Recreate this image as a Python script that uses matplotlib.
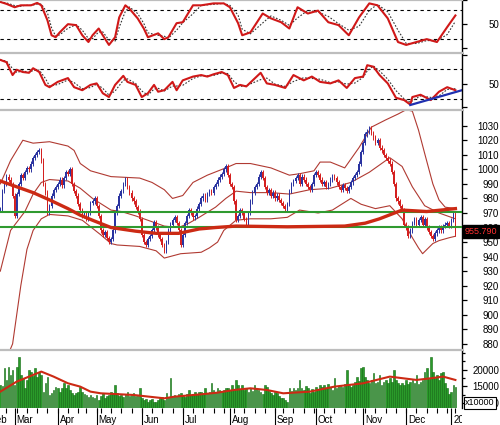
import numpy as np
import pandas as pd
import matplotlib
matplotlib.use('Agg')
import matplotlib.pyplot as plt
from matplotlib import transforms

plt.rcParams['font.family'] = ['Liberation Sans', 'DejaVu Sans']
label_size = 7

# trading days on the chart (exchange holidays removed)
holidays = pd.to_datetime(['2019-04-15', '2019-04-29', '2019-04-30', '2019-05-01',
                           '2019-09-02', '2020-01-01'])
dates = pd.bdate_range('2019-02-20', '2020-01-06')
dates = dates[~dates.isin(holidays)]

closes = [972, 985, 990, 995, 993, 990, 982, 968, 983, 990,
          996, 994, 998, 1001, 1000, 1004, 1008, 1010, 1012, 1013,
          1006, 990, 984, 970, 975, 982, 986, 988, 990, 993,
          989, 994, 998, 997, 1000, 990, 985, 982, 976, 972,
          968, 970, 966, 970, 977, 978, 980, 975, 968, 958,
          955, 957, 953, 950, 952, 958, 970, 975, 982, 985,
          990, 993, 988, 984, 980, 978, 974, 971, 966, 955,
          950, 948, 952, 954, 958, 964, 960, 955, 952, 948,
          944, 950, 958, 962, 965, 967, 963, 958, 948, 955,
          963, 968, 972, 970, 967, 968, 973, 976, 980, 982,
          979, 983, 985, 984, 988, 990, 993, 995, 997, 1000,
          1002, 996, 990, 988, 978, 965, 968, 972, 970, 966,
          962, 970, 978, 984, 988, 990, 995, 998, 994, 988,
          984, 986, 982, 984, 980, 982, 979, 977, 975, 973,
          976, 985, 990, 992, 994, 996, 990, 995, 993, 990,
          988, 986, 990, 996, 998, 996, 993, 990, 991, 988,
          990, 993, 995, 994, 991, 988, 986, 989, 987, 985,
          988, 991, 994, 996, 998, 1004, 1012, 1018, 1024, 1026,
          1028, 1025, 1022, 1018, 1020, 1015, 1013, 1010, 1008, 1006,
          1004, 998, 990, 980, 978, 975, 972, 962, 960, 954,
          958, 963, 966, 962, 965, 967, 962, 966, 960, 957,
          954, 952, 956, 958, 960, 958, 961, 962, 963, 961,
          965, 969, 955.79]

volumes = [15400, 15000, 20400, 17000, 20900, 18500, 19900, 15400, 20900, 23900,
           18400, 17400, 14400, 16900, 19900, 19400, 18000, 20400, 17900, 19400,
           18400, 13400, 16000, 17900, 12400, 12900, 13900, 14800, 14400, 13400,
           14500, 15900, 14400, 15400, 13900, 13000, 12400, 13000, 13400, 14900,
           13400, 12800, 12400, 11900, 12400, 11800, 11400, 12400, 10900, 12000,
           12900, 11400, 12000, 12400, 13400, 12600, 15400, 12900, 12200, 12400,
           11900, 12800, 13400, 12000, 12400, 12900, 12100, 12400, 14400, 11500,
           10900, 11200, 10400, 10900, 11300, 10400, 10400, 11000, 11400, 11800,
           10900, 12900, 11800, 17400, 11900, 12400, 12000, 12600, 13000, 12400,
           11900, 12800, 13900, 12400, 12800, 13400, 12600, 13400, 13400, 12800,
           14400, 13000, 13400, 15900, 13900, 13400, 14400, 13800, 13400, 13900,
           14400, 14400, 13800, 15400, 14000, 16900, 15400, 14200, 15400, 14000,
           14400, 13400, 14400, 13600, 15400, 14400, 13800, 13400, 12800, 15400,
           14900, 13500, 12900, 12400, 13400, 12900, 12000, 11400, 11400, 11000,
           10400, 14400, 13600, 14400, 13800, 14400, 16900, 14600, 13900, 15000,
           14400, 12900, 14200, 13400, 14900, 14000, 15400, 14800, 15400, 14400,
           15600, 14900, 14000, 17400, 14400, 15000, 15400, 14900, 15600, 19900,
           15400, 14900, 15400, 16400, 17900, 16600, 20400, 20900, 17800, 16900,
           15900, 17000, 18900, 16000, 16400, 18400, 15500, 16400, 17000, 15900,
           17400, 16400, 19900, 17000, 15900, 15400, 16000, 15400, 16900, 15800,
           16400, 16800, 15900, 18400, 15600, 16400, 17000, 19400, 20400, 17200,
           23900, 19400, 17600, 18400, 16800, 18900, 19400, 16000, 14400, 12800,
           13400, 15400, 14900]

# lines at selected bars
ma_idx = [0, 10, 16, 24, 33, 39, 45, 54, 66, 76, 87, 97, 105, 115, 140, 168, 178, 185, 196, 208, 222]
ma_val = [992, 987, 984, 979, 973, 968.5, 965, 960, 957.5, 956, 956, 959, 960, 961, 960.5, 961,
          963, 966, 972, 971, 973]

up_idx = [0, 5, 11, 16, 24, 33, 36, 39, 44, 54, 68, 74, 80, 84, 89, 94, 101, 110, 115, 122,
          132, 141, 146, 153, 156, 161, 168, 175, 181, 188, 194, 198, 201, 204, 207, 211, 214, 217, 222]
up_val = [990, 1006, 1020, 1018, 1019, 1016, 1013, 1004, 999, 995, 994, 991, 986, 980, 982, 991,
          996, 1001, 1004, 1004, 1001, 996, 997, 999, 1005, 1005, 1001, 1015, 1029, 1034, 1038,
          1041, 1040, 1027, 1011, 990, 979, 974, 973]

mid_idx = [0, 5, 12, 16, 20, 24, 33, 39, 45, 54, 59, 66, 72, 80, 87, 92, 97, 105, 110, 115,
           122, 132, 141, 151, 161, 171, 180, 190, 196, 201, 207, 214, 222]
mid_val = [930, 958, 971, 983, 991, 993, 992, 987, 980, 972, 971, 968, 965, 961, 960, 963, 967,
           974, 980, 985, 984, 984, 983, 986, 987, 991, 998, 1008, 1002, 988, 975, 970, 966]

low_idx = [0, 6, 10, 13, 16, 20, 24, 33, 40, 49, 54, 57, 68, 76, 80, 88, 98, 102, 106, 109,
           115, 122, 132, 140, 146, 155, 162, 171, 176, 183, 190, 196, 201, 204, 206, 211, 214,
           219, 222]
low_val = [860, 880, 920, 945, 958, 966, 969, 968, 965, 955, 949, 948, 947, 944, 939, 942, 943,
           946, 950, 958, 965, 966, 966, 967, 972, 970, 972, 980, 976, 973, 975, 966, 953, 946,
           942, 949, 951, 953, 954]

levels = [970.5, 960.5]
last_label = '955.790'

stoch_idx = [0, 3, 7, 10, 12, 15, 18, 20, 23, 25, 27, 29, 33, 37, 40, 43, 45, 48, 50, 53,
             56, 58, 61, 63, 67, 70, 72, 77, 80, 82, 86, 89, 94, 98, 104, 109, 112, 116, 118, 122,
             128, 132, 137, 141, 145, 150, 155, 160, 165, 170, 175, 180, 184, 189, 194, 198, 203,
             208, 213, 218, 222]
stoch_val = [96, 92, 85, 89, 89, 89, 94, 89, 58, 27, 23, 33, 50, 48, 27, 13, 27, 41, 27, 7,
             23, 64, 89, 82, 62, 41, 23, 31, 19, 23, 52, 54, 89, 89, 93, 93, 85, 52, 27, 33,
             72, 62, 54, 41, 85, 72, 78, 54, 48, 27, 64, 93, 89, 62, 13, 7, 13, 19, 13, 44, 68]

rsi_idx = [0, 3, 6, 8, 11, 14, 16, 19, 22, 24, 28, 33, 36, 40, 44, 47, 50, 53, 56, 60,
           62, 66, 69, 72, 75, 77, 80, 84, 86, 89, 94, 98, 101, 104, 108, 111, 114, 117, 120, 127,
           130, 134, 139, 143, 148, 152, 156, 161, 165, 169, 173, 177, 179, 182, 185, 189, 193,
           197, 200, 201, 205, 210, 214, 218, 222]
rsi_val = [82, 79, 62, 69, 66, 65, 71, 66, 49, 46, 53, 58, 46, 42, 49, 51, 38, 33, 49, 61,
           53, 49, 33, 38, 49, 40, 42, 53, 42, 55, 60, 62, 60, 63, 66, 62, 45, 49, 47, 65,
           51, 49, 45, 62, 55, 60, 53, 51, 55, 45, 58, 60, 75, 73, 62, 51, 32,
           29, 23, 33, 36, 29, 40, 46, 42]
trend_idx = [200, 225.2]
trend_val = [22.5, 42]

vma_idx = [0, 8, 20, 26, 33, 39, 44, 49, 65, 80, 85, 98, 106, 114, 122, 130, 138, 151, 163,
           177, 190, 203, 210, 216, 222]
vma_val = [13400, 16400, 19400, 17900, 15900, 14900, 13400, 12900, 12400, 11400, 11900, 12600,
           13100, 13900, 14400, 13900, 12900, 13400, 14900, 15900, 17900, 16900, 17400, 17900,
           16900]

# ---------------------------------------------------------------- layout
W, H = 500.0, 425.0
plot_right = 462
bar_px = 2.05
x_lo = -0.3 / bar_px
x_hi = (plot_right - 0.3) / bar_px

fig = plt.figure(figsize=(W / 100, H / 100), dpi=100)


def px_axes(top, bottom):
    return fig.add_axes([0, 1 - bottom / H, plot_right / W, (bottom - top) / H])


def style_panel(ax, ylim, ticks, labels):
    ax.set_xlim(x_lo, x_hi)
    ax.set_ylim(*ylim)
    ax.set_xticks([])
    ax.spines['left'].set_visible(False)
    ax.spines['bottom'].set_visible(False)
    ax.spines['top'].set_color('#bdbdbd')
    ax.spines['top'].set_linewidth(1.6)
    ax.spines['right'].set_linewidth(1.0)
    ax.yaxis.tick_right()
    ax.set_yticks(ticks)
    ax.set_yticklabels(labels)
    ax.tick_params(axis='y', which='both', direction='out', length=3.6, width=0.9,
                   labelsize=label_size, pad=23)
    ax.tick_params(axis='y', which='minor', length=2.2)
    for tick in ax.yaxis.get_major_ticks():
        tick.label2.set_horizontalalignment('right')


ax1 = px_axes(0, 53)
ax2 = px_axes(53, 110)
ax3 = px_axes(110, 350)
ax4 = px_axes(350, 408)
axl = px_axes(408, 425)

osc_red = '#d01818'

# ---- panel 1: stochastic
style_panel(ax1, (-9.7, 99.1), [0, 50, 100], ['', '50', ''])
for lv in (80, 20):
    ax1.axhline(lv, color='black', lw=0.8, ls=(0, (3, 3)))
sig1 = pd.Series(stoch_val).rolling(2, min_periods=1).mean()
ax1.plot(stoch_idx, sig1, color='#333333', lw=0.8, ls=(0, (1.5, 1.5)))
ax1.plot(stoch_idx, stoch_val, color=osc_red, lw=1.5)

# ---- panel 2: RSI
style_panel(ax2, (15.9, 91.1), [20, 50, 88], ['', '50', ''])
for lv in (70, 30):
    ax2.axhline(lv, color='black', lw=0.8, ls=(0, (3, 3)))
sig2 = pd.Series(rsi_val).rolling(2, min_periods=1).mean()
ax2.plot(rsi_idx, sig2, color='#333333', lw=0.8, ls=(0, (1.5, 1.5)))
ax2.plot(rsi_idx, rsi_val, color=osc_red, lw=1.5)
ax2.plot(trend_idx, trend_val, color='#2030b0', lw=1.6)

# ---- main price panel
price_ticks = list(range(880, 1031, 10))
style_panel(ax3, (875.8, 1040.8), price_ticks, [str(t) for t in price_ticks])
band_color = '#b03a32'
ax3.plot(up_idx, up_val, color=band_color, lw=0.8)
ax3.plot(mid_idx, mid_val, color=band_color, lw=0.8)
ax3.plot(low_idx, low_val, color=band_color, lw=0.8)

pos = np.arange(len(closes))
c = np.array(closes, dtype=float)
o = np.r_[c[0], c[:-1]]
rising = c >= o
cols = np.where(rising, '#2a33a0', '#d42020')
body_lo = np.minimum(o, c)
body_h = np.maximum(np.abs(c - o), 0.7)
wick_pad = 1.5
ax3.vlines(pos, body_lo - wick_pad, body_lo + body_h + wick_pad, colors=cols, lw=0.7, zorder=2)
ax3.bar(pos, body_h, bottom=body_lo, width=0.75, color=cols, linewidth=0, zorder=2)

for lv in levels:
    ax3.axhline(lv, color='#2f9a2f', lw=1.5, zorder=3)
ax3.plot(ma_idx, ma_val, color='#cc2a14', lw=2.4, zorder=4)

ax3.text(1.0 + 3 / plot_right, closes[-1] + 1.2, last_label,
         transform=transforms.blended_transform_factory(ax3.transAxes, ax3.transData),
         ha='left', va='center', fontsize=6.5, color='#ff3030', zorder=5,
         bbox=dict(facecolor='black', edgecolor='black', pad=1.4), clip_on=False)

# ---- volume panel
style_panel(ax4, (8500, 25870), [10000, 15000, 20000], ['10000', '15000', '20000'])
ax4.set_yticks([12500, 17500, 22500, 25000], minor=True)
ax4.bar(pos, volumes, width=0.8, color='#2a9a2a', edgecolor='#0f6a0f', linewidth=0.4)
ax4.plot(vma_idx, vma_val, color='#cc2a14', lw=1.5)
ax4.text(1.0 + 3 / plot_right, 10000, 'x10000',
         transform=transforms.blended_transform_factory(ax4.transAxes, ax4.transData),
         ha='left', va='center', fontsize=6.5, color='black', zorder=5,
         bbox=dict(facecolor='white', edgecolor='black', pad=1.0, lw=0.8), clip_on=False)

# ---- date axis
axl.set_xlim(x_lo, x_hi)
axl.set_ylim(0, 1)
axl.axis('off')
month_change = np.r_[False, dates.month[1:] != dates.month[:-1]]
week = dates.isocalendar().week.to_numpy()
week_change = np.r_[False, week[1:] != week[:-1]]
month_pos = list(pos[month_change])
month_lab = [str(d.year) if d.month == 1 else d.strftime('%b') for d in dates[month_change]]
feb_tick = -6
month_pos = [feb_tick] + month_pos
month_lab = ['Feb'] + month_lab
axl.vlines(pos[week_change], 0.72, 1, colors='black', lw=0.8)
axl.vlines(month_pos, 0, 1, colors='black', lw=0.8)
shift = transforms.offset_copy(axl.transData, fig=fig, x=2, y=0, units='dots')
for mp, ml in zip(month_pos, month_lab):
    axl.text(mp, 0.32, ml, transform=shift, fontsize=label_size, ha='left', va='center',
             clip_on=True)

fig.savefig('out.png', dpi=100)
